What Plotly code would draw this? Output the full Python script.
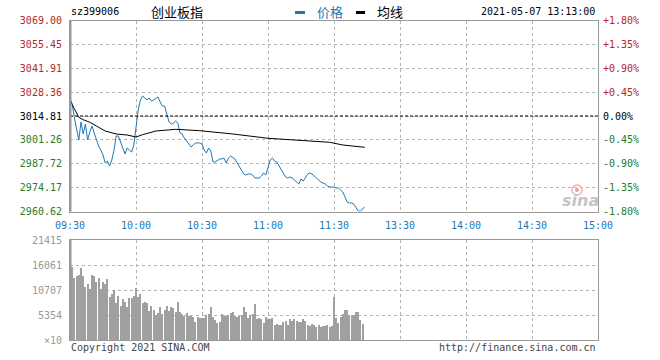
import plotly.graph_objects as go

# ---------------- data ----------------
prev_close = 3014.81
price = [3024.46, 3021.62, 3013.68, 3008.00, 3001.19, 3011.41, 3004.60, 3010.27, 3001.19, 3005.73,
         3009.14, 3005.16, 3001.19, 2997.79, 2995.52, 2992.68, 2988.14, 2989.28, 2986.44, 2989.84,
         2995.52, 3003.46, 3003.46, 3000.06, 2995.52, 2993.25, 2996.65, 2995.52, 2994.38, 2998.36,
         3010.27, 3018.21, 3023.89, 3026.16, 3025.02, 3023.89, 3025.02, 3023.32, 3023.89, 3025.02,
         3025.59, 3022.75, 3020.48, 3020.48, 3015.94, 3011.41, 3010.27, 3010.84, 3011.97, 3010.84,
         3005.16, 3004.60, 3002.33, 3000.62, 2998.92, 2997.22, 2998.36, 2999.49, 2999.49, 2999.49,
         2998.92, 2995.52, 2993.82, 2996.65, 2994.95, 2988.71, 2988.71, 2989.84, 2990.41, 2990.41,
         2990.98, 2988.14, 2990.98, 2992.11, 2990.98, 2990.41, 2988.14, 2985.87, 2984.17, 2981.90,
         2981.33, 2981.90, 2981.90, 2981.33, 2979.63, 2979.63, 2979.63, 2980.77, 2982.47, 2981.33,
         2986.44, 2989.84, 2990.98, 2989.28, 2988.71, 2986.44, 2984.17, 2982.47, 2980.20, 2979.63,
         2980.20, 2979.63, 2978.50, 2977.93, 2976.23, 2979.06, 2977.93, 2979.63, 2981.90, 2982.47,
         2981.90, 2980.77, 2979.63, 2978.50, 2977.36, 2976.79, 2976.23, 2975.09, 2974.52, 2974.52,
         2974.52, 2973.96, 2973.96, 2972.82, 2971.69, 2968.85, 2966.01, 2965.45, 2965.45, 2964.88,
         2962.61, 2960.91, 2960.91, 2962.04, 2963.18]
price_minutes = list(range(len(price)))

avg_minutes = [0, 1, 3, 4, 6, 9, 12, 16, 21, 26, 30, 33, 39, 44, 48, 59, 74, 90, 105, 118, 124, 134]
avg_price = [3024.46, 3021.22, 3016.51, 3014.07, 3012.71, 3011.24, 3009.14, 3006.30, 3004.60, 3004.03,
             3002.89, 3004.20, 3006.30, 3007.04, 3007.26, 3006.47, 3004.60, 3002.16, 3000.80, 2999.89,
             2998.36, 2997.05]

volume = [15633, 13213, 13706, 13920, 15419, 13706, 11350, 11928, 10986, 13855,
          13706, 12421, 13213, 10857, 12421, 12057, 13063, 9208, 9851, 10708,
          7924, 9423, 7281, 8780, 8202, 7003, 8994, 8994, 9423, 11136,
          9273, 9851, 7859, 8073, 7859, 6210, 7217, 6425, 5354, 5782,
          7067, 5504, 6489, 7217, 6146, 7003, 6853, 5996, 8138, 5996,
          5504, 5140, 5718, 5140, 5140, 4990, 3790, 4925, 4711, 4711,
          4711, 5418, 5568, 7067,
          4925, 4219, 3641, 3855, 5504, 5290, 5140, 5290, 5782, 5996,
          5140, 4990, 5140, 5418, 7067, 5996, 4711, 5418, 5568, 7645,
          4561, 4711, 4433, 3641, 4861, 4433, 4561, 4711, 3212, 3362,
          3276, 3212, 3855, 4069, 3276, 4433, 4069, 4433, 4005, 3855,
          3855, 4433, 4069, 3148, 2998, 3362, 3148, 2848, 3148, 2784,
          2998, 2998, 3148, 2848, 2998, 9208, 4776, 3576, 4925, 5568,
          6425, 6425, 5354, 5354, 5354, 5996, 5996, 4283, 3426]
volume_minutes = [i + 1 for i in range(len(volume))]

price_ticks = [3069.00, 3055.45, 3041.91, 3028.36, 3014.81, 3001.26, 2987.72, 2974.17, 2960.62]
time_ticks = [0, 30, 60, 90, 120, 150, 180, 210, 240]
time_labels = ["09:30", "10:00", "10:30", "11:00", "11:30", "13:30", "14:00", "14:30", "15:00"]
vol_ticks = [0, 5354, 10707, 16061, 21415]
vol_labels = ["×10", "5354", "10707", "16061", "21415"]

code = "sz399006"
name = "创业板指"
stamp = "2021-05-07 13:13:00"

# ---------------- styling ----------------
W, H = 660, 360
RED, GREEN, BLACK = "#b42828", "#2a7a2a", "#000000"
BLUE = "#1f78b4"
MONO = "DejaVu Sans Mono"
CJK = "Noto Sans CJK SC"

def px_x(x):
    return x / W

def px_y(y):
    return 1 - y / H

def col(v):
    if abs(v - prev_close) < 1e-6:
        return BLACK
    return RED if v > prev_close else GREEN

left_text = [f'<span style="color:{col(v)}">{v:.2f}</span>' for v in price_ticks]
right_text = []
for v in price_ticks:
    p = (v / prev_close - 1) * 100
    s = f"{p:+.2f}%" if abs(p) > 1e-6 else "0.00%"
    right_text.append(f'<span style="color:{col(v)}">{s}</span>')

fig = go.Figure()
fig.add_trace(go.Scatter(x=price_minutes, y=price, mode="lines",
                         line=dict(color=BLUE, width=1), xaxis="x", yaxis="y", hoverinfo="skip"))
fig.add_trace(go.Scatter(x=avg_minutes, y=avg_price, mode="lines",
                         line=dict(color=BLACK, width=1), xaxis="x", yaxis="y", hoverinfo="skip"))
fig.add_trace(go.Scatter(x=price_minutes, y=price, mode="lines", opacity=0,
                         line=dict(color=BLUE, width=1), xaxis="x", yaxis="y2", hoverinfo="skip"))
fig.add_trace(go.Bar(x=volume_minutes, y=volume, width=0.38,
                     marker=dict(color="#a0a0a0", line=dict(width=0)),
                     xaxis="x2", yaxis="y3", hoverinfo="skip"))

xdom = [px_x(70), px_x(598)]
yrange = [price_ticks[-1], price_ticks[0]]
grid = dict(showgrid=True, gridcolor="#b4b4b4", gridwidth=1, griddash="dot", automargin=False)

fig.update_layout(
    width=W, height=H, margin=dict(l=0, r=0, t=0, b=0, autoexpand=False),
    paper_bgcolor="white", plot_bgcolor="white", showlegend=False,
    bargap=0,
    xaxis=dict(domain=xdom, range=[0, 240], anchor="y", tickvals=time_ticks, ticktext=time_labels,
               tickfont=dict(family=MONO, size=10, color=BLUE), ticks="", ticklabelstandoff=4,
               showline=True, linecolor="#999999", linewidth=1, mirror=True, zeroline=False, **grid),
    yaxis=dict(domain=[px_y(211.5), px_y(20.5)], range=yrange, anchor="x",
               tickvals=price_ticks, ticktext=left_text, tickfont=dict(family=MONO, size=10),
               ticks="", ticklabelstandoff=5, showline=True, linecolor="#999999", linewidth=1,
               mirror=True, zeroline=False, **grid),
    yaxis2=dict(overlaying="y", side="right", range=yrange, anchor="x",
                tickvals=price_ticks, ticktext=right_text, tickfont=dict(family=MONO, size=10),
                ticks="", ticklabelstandoff=4, showgrid=False, zeroline=False, showline=False,
                automargin=False),
    xaxis2=dict(domain=xdom, range=[0, 240], anchor="y3", tickvals=time_ticks, showticklabels=False,
                ticks="", showline=True, linecolor="#999999", linewidth=1, mirror=True,
                zeroline=False, **grid),
    yaxis3=dict(domain=[px_y(340), px_y(240)], range=[0, vol_ticks[-1]], anchor="x2",
                tickvals=vol_ticks, ticktext=vol_labels,
                tickfont=dict(family=MONO, size=10, color="#999999"), ticks="", ticklabelstandoff=5,
                showline=True, linecolor="#999999", linewidth=1, mirror=True, zeroline=False, **grid),
)

# previous-close dashed line
fig.add_shape(type="line", xref="x", yref="y", x0=0, x1=240, y0=prev_close, y1=prev_close,
              line=dict(color=BLACK, width=1, dash="3px,2px"))
# thicker left borders
fig.add_shape(type="line", xref="paper", yref="paper", x0=px_x(70.5), x1=px_x(70.5),
              y0=px_y(211.5), y1=px_y(20.5), line=dict(color="#999999", width=2))
fig.add_shape(type="line", xref="paper", yref="paper", x0=px_x(70.5), x1=px_x(70.5),
              y0=px_y(340), y1=px_y(240), line=dict(color="#999999", width=2))

# header
fig.add_annotation(x=px_x(69), y=px_y(12), xref="paper", yref="paper", text=code, showarrow=False,
                   xanchor="left", yanchor="middle", font=dict(family=MONO, size=10, color=BLACK))
fig.add_annotation(x=px_x(177), y=px_y(12), xref="paper", yref="paper", text=name, showarrow=False,
                   xanchor="center", yanchor="middle", font=dict(family=CJK, size=13, color=BLACK))
fig.add_shape(type="line", xref="paper", yref="paper", x0=px_x(295), x1=px_x(305),
              y0=px_y(12.5), y1=px_y(12.5), line=dict(color=BLUE, width=3))
fig.add_annotation(x=px_x(315), y=px_y(12), xref="paper", yref="paper", text="价格", showarrow=False,
                   xanchor="left", yanchor="middle", font=dict(family=CJK, size=13, color=BLUE))
fig.add_shape(type="line", xref="paper", yref="paper", x0=px_x(356), x1=px_x(365),
              y0=px_y(12.5), y1=px_y(12.5), line=dict(color=BLACK, width=3))
fig.add_annotation(x=px_x(375), y=px_y(12), xref="paper", yref="paper", text="均线", showarrow=False,
                   xanchor="left", yanchor="middle", font=dict(family=CJK, size=13, color=BLACK))
fig.add_annotation(x=px_x(597), y=px_y(12), xref="paper", yref="paper", text=stamp, showarrow=False,
                   xanchor="right", yanchor="middle", font=dict(family=MONO, size=10, color=BLACK))

# footer
fig.add_annotation(x=px_x(69), y=px_y(347), xref="paper", yref="paper", text="Copyright 2021 SINA.COM",
                   showarrow=False, xanchor="left", yanchor="middle",
                   font=dict(family=MONO, size=10, color="#444444"))
fig.add_annotation(x=px_x(598), y=px_y(347), xref="paper", yref="paper", text="http://finance.sina.com.cn",
                   showarrow=False, xanchor="right", yanchor="middle",
                   font=dict(family=MONO, size=10, color="#444444"))

# sina watermark
fig.add_shape(type="circle", xref="paper", yref="paper", x0=px_x(572), x1=px_x(582),
              y0=px_y(195), y1=px_y(185), line=dict(color="#f2b0b0", width=1.5),
              fillcolor="rgba(0,0,0,0)")
fig.add_shape(type="circle", xref="paper", yref="paper", x0=px_x(575), x1=px_x(579),
              y0=px_y(192), y1=px_y(188), line=dict(width=0), fillcolor="#e8a0a0")
fig.add_annotation(x=px_x(580), y=px_y(200), xref="paper", yref="paper", text="<b><i>sina</i></b>",
                   showarrow=False, xanchor="center", yanchor="middle",
                   font=dict(family="DejaVu Sans", size=16, color="#c4c4c4"))

fig.write_html("out.html", config={"displayModeBar": False},
               post_script="document.body.style.margin='0px';")
